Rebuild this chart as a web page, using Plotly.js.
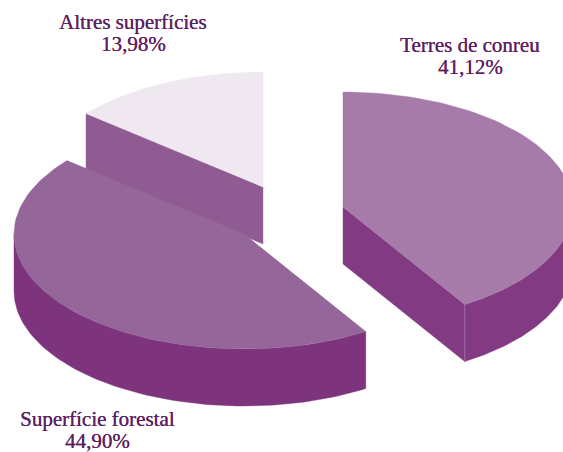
<!DOCTYPE html>
<html><head><meta charset="utf-8">
<script src="https://cdn.plot.ly/plotly-3.0.1.min.js"></script>
<style>html,body{margin:0;padding:0;background:#fff}</style></head>
<body><div id="chart" style="width:563px;height:452px"></div>
<script>
const categories = ["Terres de conreu", "Superfície forestal", "Altres superfícies"];
const values = [41.12, 44.90, 13.98];
const labels = ["41,12%", "44,90%", "13,98%"];
const topColors = ["#a67aa9", "#95669a", "#efe8f1"];
const wallColors = ["#823b83", "#7e337d", "#905b93"];
const centersX = [343, 244, 263];
const centersY = [207, 234, 187];
const labelX = [470, 97, 133];
const nameY = [45, 419, 22];
const pctY = [67, 441, 44];
const radiusX = 230, radiusY = 115, depth = 57;

const total = values.reduce((a, b) => a + b, 0);
let cum = 0;
const slices = values.map((v, i) => {
  const a0 = cum / total * 2 * Math.PI; cum += v;
  return {i, a0, a1: cum / total * 2 * Math.PI};
});
const px = (s, t) => centersX[s.i] + radiusX * Math.sin(t);
const py = (s, t, d = 0) => centersY[s.i] - radiusY * Math.cos(t) + d;
const arc = (s, t0, t1, d = 0) => {
  const n = 90, xs = [], ys = [];
  for (let k = 0; k <= n; k++) { const t = t0 + (t1 - t0) * k / n; xs.push(px(s, t)); ys.push(py(s, t, d)); }
  return [xs, ys];
};
const poly = (x, y, color, name) => ({type: "scatter", mode: "lines", x, y, fill: "toself", fillcolor: color,
  line: {width: 0.4, color}, name, hoverinfo: "name", showlegend: false});
const traces = [];
function wallRadial(s, t) {
  const cx = centersX[s.i], cy = centersY[s.i], ex = px(s, t), ey = py(s, t);
  traces.push(poly([cx, ex, ex, cx, cx], [cy, ey, ey + depth, cy + depth, cy], wallColors[s.i], categories[s.i]));
}
function wallOuter(s, t0, t1) {
  const [x1, y1] = arc(s, t0, t1), [x2, y2] = arc(s, t1, t0, depth);
  traces.push(poly(x1.concat(x2, [x1[0]]), y1.concat(y2, [y1[0]]), wallColors[s.i], categories[s.i]));
}
function topFace(s) {
  const [x, y] = arc(s, s.a0, s.a1);
  traces.push(poly([centersX[s.i]].concat(x, [centersX[s.i]]), [centersY[s.i]].concat(y, [centersY[s.i]]), topColors[s.i], categories[s.i]));
}
const [terres, forest, altres] = slices;
wallRadial(altres, altres.a0); topFace(altres);
wallOuter(forest, forest.a0, 1.5 * Math.PI); topFace(forest);
wallRadial(terres, terres.a1); wallOuter(terres, Math.PI / 2, terres.a1); topFace(terres);
traces.push({type: "scatter", mode: "lines", x: [px(terres, terres.a1), px(terres, terres.a1)],
  y: [py(terres, terres.a1), py(terres, terres.a1, depth)], line: {width: 0.7, color: topColors[0]}, hoverinfo: "skip", showlegend: false});

const textFont = {family: "Liberation Serif", size: 21, color: "#5f1f63", shadow: "0.3px 0 0 #5f1f63"};
const note = (x, y, text) => ({x, y, xref: "x", yref: "y", showarrow: false, text, font: textFont});
const annotations = categories.flatMap((c, i) => [note(labelX[i], nameY[i], c), note(labelX[i], pctY[i], labels[i])]);
const hidden = {visible: false, fixedrange: true};
Plotly.newPlot("chart", traces, {
  width: 563, height: 452, margin: {l: 0, r: 0, t: 0, b: 0}, paper_bgcolor: "#fff", plot_bgcolor: "#fff",
  xaxis: {...hidden, range: [0, 563]}, yaxis: {...hidden, range: [452, 0]}, annotations, showlegend: false
}, {displayModeBar: false, staticPlot: true});
</script></body></html>
